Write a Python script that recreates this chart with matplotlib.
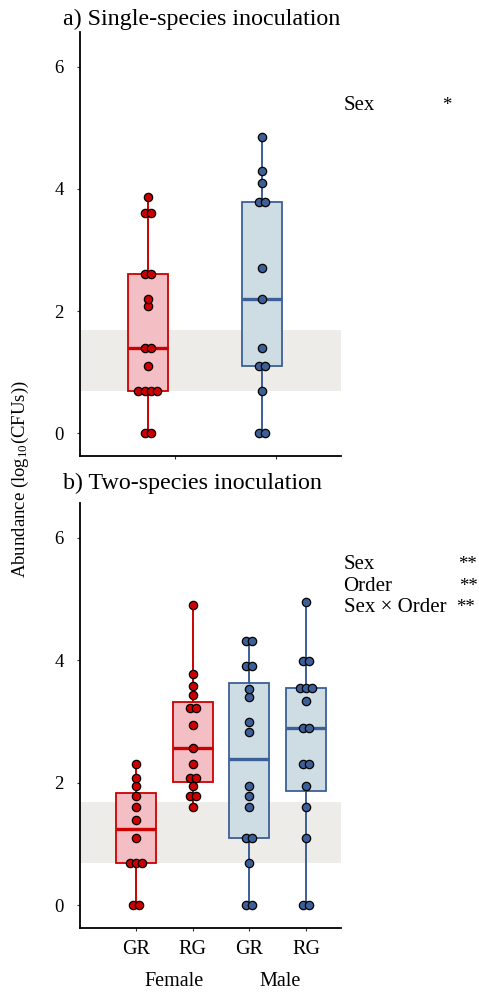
import numpy as np
import matplotlib
matplotlib.use("Agg")
import matplotlib.pyplot as plt

plt.rcParams['font.family'] = ['Liberation Serif', 'DejaVu Serif']
plt.rcParams['mathtext.fontset'] = 'custom'
plt.rcParams['mathtext.rm'] = 'Liberation Serif'
plt.rcParams['mathtext.it'] = 'Liberation Serif:italic'

# ---------------- data ----------------
single_groups = ["Female", "Male"]
single_female = [0, 0, 0.69, 0.69, 0.69, 0.69, 1.10, 1.39, 1.39, 2.08, 2.20,
                 2.60, 2.60, 3.61, 3.61, 3.87]
single_male = [0, 0, 0.69, 1.10, 1.10, 1.39, 2.20, 2.71, 3.79, 3.79, 4.09,
               4.29, 4.85]

two_tick_labels = ["GR", "RG", "GR", "RG"]
two_sex = ["Female", "Female", "Male", "Male"]
two_female_GR = [0, 0, 0.69, 0.69, 0.69, 1.10, 1.39, 1.61, 1.79, 1.95, 2.08, 2.30]
two_female_RG = [1.61, 1.79, 1.79, 1.94, 2.08, 2.08, 2.30, 2.56, 2.94, 3.22,
                 3.22, 3.43, 3.58, 3.78, 4.91]
two_male_GR = [0, 0, 0.69, 1.10, 1.10, 1.61, 1.79, 1.94, 2.83, 2.99, 3.40,
               3.53, 3.90, 3.90, 4.32, 4.32]
two_male_RG = [0, 0, 1.10, 1.61, 1.94, 2.30, 2.30, 2.89, 2.89, 3.33, 3.55,
               3.55, 3.55, 3.99, 3.99, 4.95]

band_range = (0.69, 1.69)
yticks = [0, 2, 4, 6]

single_stats = [("Sex", "*")]
two_stats = [("Sex", "**"), ("Order", "**"), ("Sex \u00d7 Order", "**")]

# ---------------- style ----------------
W, H = 479, 993
DPI = 100
RED_EDGE = "#CC0000"
RED_FILL = "#F4BFC4"
BLUE_EDGE = "#3B5F96"
BLUE_FILL = "#CEDCE3"
BAND = "#EDECE9"

fig = plt.figure(figsize=(W / DPI, H / DPI), dpi=DPI)


def px_axes(left, top, right, bottom):
    return fig.add_axes([left / W, 1 - bottom / H, (right - left) / W, (bottom - top) / H])


def swarm_offsets(vals, step):
    vals = np.asarray(vals, dtype=float)
    offs = np.zeros_like(vals)
    keys = np.round(vals, 2)
    for k in np.unique(keys):
        idx = np.where(keys == k)[0]
        n = len(idx)
        offs[idx] = (np.arange(n) - (n - 1) / 2) * step
    return offs


def draw_panel(ax, datasets, positions, edges, fills, width, step):
    ax.axhspan(band_range[0], band_range[1], color=BAND, zorder=0, lw=0)
    for d, p, ec, fc in zip(datasets, positions, edges, fills):
        ax.boxplot([d], positions=[p], widths=width, whis=(0, 100),
                   patch_artist=True, showfliers=False, showcaps=False,
                   boxprops=dict(facecolor=fc, edgecolor=ec, linewidth=1.3),
                   whiskerprops=dict(color=ec, linewidth=1.4),
                   medianprops=dict(color=ec, linewidth=2.4),
                   zorder=2)
        offs = swarm_offsets(d, step)
        ax.scatter(np.full(len(d), p) + offs, d, s=36, facecolor=ec,
                   edgecolor="black", linewidth=0.9, zorder=3)
    ax.set_ylim(-0.375, 6.57)
    ax.set_yticks(yticks)
    ax.set_yticklabels([str(t) for t in yticks], fontsize=13.5)
    for s in ["top", "right"]:
        ax.spines[s].set_visible(False)
    for s in ["left", "bottom"]:
        ax.spines[s].set_linewidth(1.3)
        ax.spines[s].set_color("black")
    ax.tick_params(axis="y", length=2.5, width=0.8, pad=9, colors="#333333",
                   labelcolor="black")
    ax.tick_params(axis="x", length=2.5, width=0.8, pad=6, colors="#333333",
                   labelcolor="black")


# top panel
ax1 = px_axes(79.5, 32, 340.5, 456)
ax1.set_xlim(0.405, 2.682)
draw_panel(ax1, [single_female, single_male], [1, 2],
           [RED_EDGE, BLUE_EDGE], [RED_FILL, BLUE_FILL],
           width=0.349, step=6.3 / 114.6)
ax1.set_xticks([1.238, 2.12])
ax1.set_xticklabels(["", ""])

# bottom panel
ax2 = px_axes(79.5, 503, 340.5, 928)
ax2.set_xlim(0.0, 4.61)
two_data = [two_female_GR, two_female_RG, two_male_GR, two_male_RG]
two_edges = [RED_EDGE if s == "Female" else BLUE_EDGE for s in two_sex]
two_fills = [RED_FILL if s == "Female" else BLUE_FILL for s in two_sex]
draw_panel(ax2, two_data, [1, 2, 3, 4], two_edges, two_fills,
           width=0.706, step=6.3 / 56.67)
ax2.set_xticks([1, 2, 3, 4])
ax2.set_xticklabels(two_tick_labels, fontsize=14.5)

# sex group labels
fig.text(174 / W, 1 - 981 / H, "Female", ha="center", va="center", fontsize=14.5)
fig.text(280 / W, 1 - 981 / H, "Male", ha="center", va="center", fontsize=14.5)

# titles
fig.text(63 / W, 1 - 25.5 / H, "a) Single-species inoculation", ha="left",
         va="baseline", fontsize=17.3)
fig.text(63 / W, 1 - 488.5 / H, "b) Two-species inoculation", ha="left",
         va="baseline", fontsize=17.3)

# y label
fig.text(20 / W, 1 - 479 / H, r"Abundance (log$_{\mathrm{10}}$(CFUs))",
         rotation=90, ha="center", va="center", fontsize=13.5)

# stats annotations
for (lab, sig) in single_stats:
    fig.text(343.5 / W, 1 - 110 / H, lab, ha="left", va="baseline", fontsize=15)
    fig.text(447 / W, 1 - 110 / H, sig, ha="center", va="baseline", fontsize=13.5)

two_baselines = [569, 591, 612]
two_sig_x = [458, 459.5, 456.5]
for (lab, sig), yb, sx in zip(two_stats, two_baselines, two_sig_x):
    fig.text(343.5 / W, 1 - yb / H, lab, ha="left", va="baseline", fontsize=15)
    fig.text(sx / W, 1 - yb / H, sig, ha="left", va="baseline", fontsize=13.5)

fig.savefig("out.png", dpi=DPI)
